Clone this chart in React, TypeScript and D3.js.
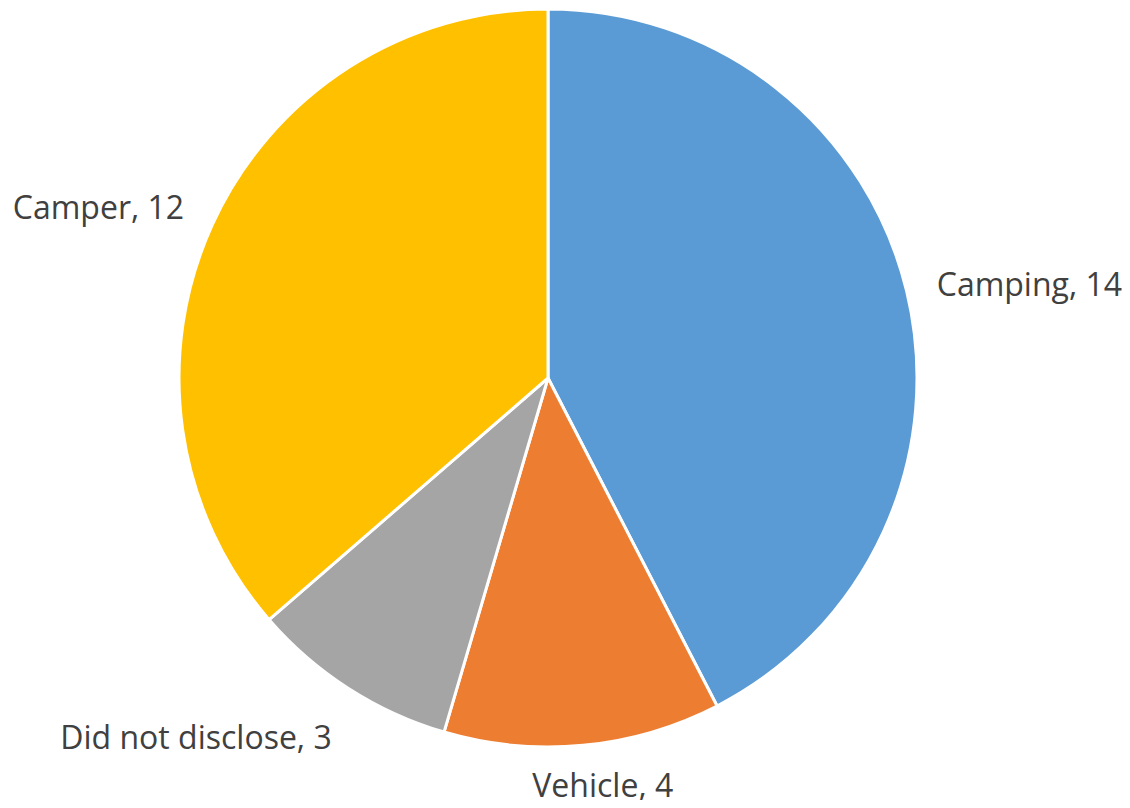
import React, { useEffect, useRef } from "react";
import * as d3 from "d3";

const categories = ["Camping", "Vehicle", "Did not disclose", "Camper"];
const values = [14, 4, 3, 12];
const colors = ["#5B9BD5", "#ED7D31", "#A5A5A5", "#FFC000"];

const W = 1130;
const H = 808;
const cx = 548;
const cy = 378;
const R = 369;

export default function App() {
  const ref = useRef<SVGSVGElement>(null);
  useEffect(() => {
    const svg = d3.select(ref.current);
    svg.selectAll("*").remove();
    const pie = d3.pie<number>().sort(null).value((d) => d);
    const arcs = pie(values);
    const arc = d3.arc<d3.PieArcDatum<number>>().innerRadius(0).outerRadius(R);
    const g = svg.append("g").attr("transform", `translate(${cx},${cy})`);
    g.selectAll("path")
      .data(arcs)
      .join("path")
      .attr("d", arc as any)
      .attr("fill", (_, i) => colors[i])
      .attr("stroke", "#fff")
      .attr("stroke-width", 3)
      .attr("stroke-linejoin", "round");
    const lr = R + 31;
    const clamp = (v: number) => Math.max(-1, Math.min(1, v));
    arcs.forEach((a, i) => {
      const ang = (a.startAngle + a.endAngle) / 2;
      const s = Math.sin(ang);
      const c = Math.cos(ang);
      const px = lr * s;
      const py = -lr * c;
      const t = g
        .append("text")
        .attr("font-family", "'Open Sans', sans-serif")
        .attr("font-size", 32)
        .attr("fill", "#404040")
        .attr("text-anchor", "middle")
        .attr("dominant-baseline", "central")
        .text(`${categories[i]}, ${values[i]}`);
      const bb = (t.node() as SVGTextElement).getBBox();
      const w = bb.width;
      const h = bb.height;
      const fx = clamp(s * 2.5);
      const fy = -Math.sign(c) * clamp(Math.max(0, Math.abs(c) - 0.3) / 0.5);
      let x = px + fx * w / 2;
      let y = py + fy * h / 2;
      const maxY = H - cy - h / 2 - 2;
      const minY = -cy + h / 2 + 2;
      y = Math.max(minY, Math.min(maxY, y));
      t.attr("x", x).attr("y", y);
    });
  }, []);
  return <svg ref={ref} width={W} height={H} style={{ display: "block", margin: -8 }} />;
}
